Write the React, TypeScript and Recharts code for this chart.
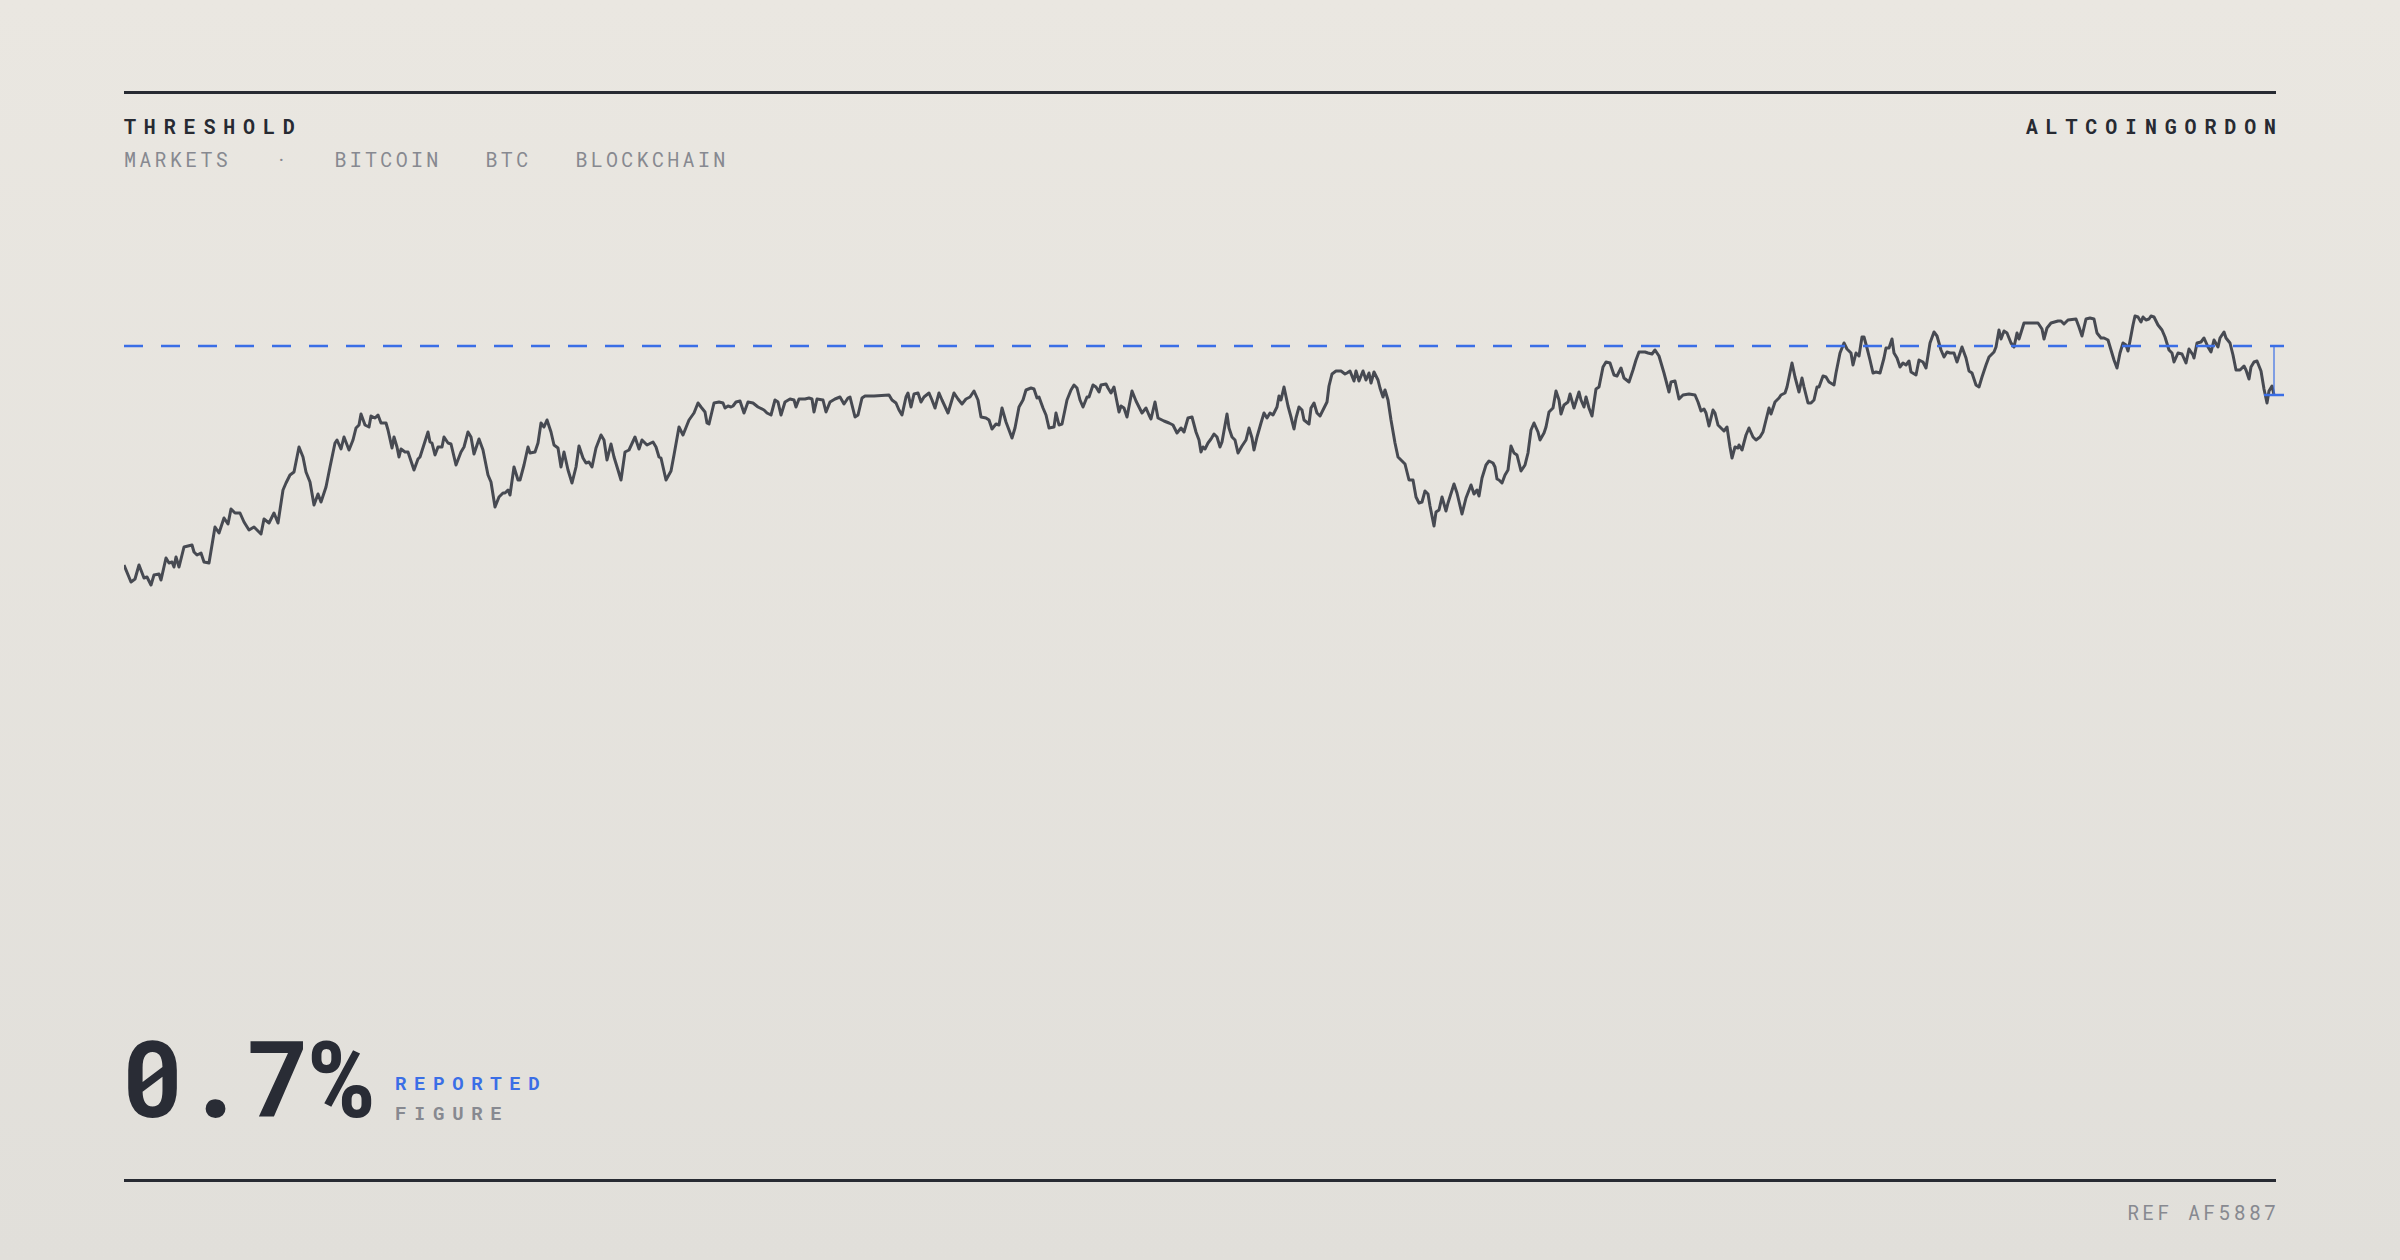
import React from "react";
import { Line, LineChart, ReferenceDot, ReferenceLine, XAxis, YAxis } from "recharts";

// day index of each sample (left to right)
const days = [
	0, 7, 11, 15, 20, 23, 27, 30, 35, 37,
	42, 45, 48, 50, 52, 55, 60, 64, 68, 70,
	73, 77, 80, 85, 91, 95, 100, 104, 107, 111,
	116, 120, 125, 130, 137, 140, 145, 150, 154, 159,
	162, 166, 170, 175, 179, 182, 186, 190, 194, 197,
	202, 206, 211, 213, 217, 220, 225, 229, 232, 235,
	237, 241, 245, 247, 251, 254, 257, 262, 264, 268,
	270, 273, 275, 277, 281, 284, 290, 294, 296, 304,
	306, 308, 311, 314, 318, 320, 324, 327, 332, 337,
	340, 344, 347, 350, 355, 359, 364, 367, 371, 375,
	379, 381, 384, 386, 390, 394, 396, 400, 404, 406,
	411, 414, 417, 420, 423, 427, 430, 434, 437, 440,
	444, 448, 452, 455, 459, 462, 465, 468, 472, 477,
	480, 483, 487, 490, 494, 497, 501, 505, 511, 515,
	518, 523, 529, 532, 535, 537,
	542, 547, 550, 555, 559, 565, 570, 574, 577, 581,
	583, 585, 590, 595, 599, 601, 604, 607, 609, 612,
	616, 620, 624, 629, 634, 640, 643, 647, 651, 654,
	657, 661, 666, 670, 672, 675, 681, 685, 688, 690,
	693, 699, 702, 706, 711, 716, 720, 724, 726, 731,
	734, 738, 741, 750, 765, 768, 772, 775, 778, 782,
	784, 787, 790, 794, 797, 800, 805, 808, 811, 815,
	818, 824, 830, 834, 838, 842, 846, 850, 854, 857,
	862, 865, 868, 872, 875, 878, 882, 888, 891, 895,
	899, 902, 907, 910, 913, 915, 919, 922, 925, 930,
	932, 935, 938, 943, 947, 950, 953, 956, 959, 963,
	965, 969, 972, 975, 977, 982, 984, 987, 990, 995,
	997, 1000, 1003, 1008, 1012, 1015, 1018, 1022, 1025, 1027,
	1031, 1034, 1040, 1045, 1049, 1053, 1057, 1060, 1064, 1068,
	1072, 1075, 1077,
	1079, 1081, 1084, 1087, 1090, 1093, 1096, 1098, 1103, 1105,
	1108, 1111, 1114, 1118, 1122, 1125, 1128, 1130, 1133, 1137,
	1140, 1143, 1146, 1149, 1153, 1155, 1157, 1160, 1164, 1167,
	1170, 1172, 1175, 1178, 1180, 1185, 1187, 1190, 1193, 1196,
	1199, 1203, 1205, 1208, 1212, 1217, 1221, 1223, 1226, 1230,
	1232, 1235, 1239, 1242, 1245, 1247, 1250, 1254, 1256, 1259,
	1261, 1264, 1267, 1271, 1274, 1278, 1281, 1285, 1289, 1292,
	1295, 1298, 1301, 1304, 1306, 1310, 1312, 1315, 1318, 1322,
	1324, 1330, 1333, 1338, 1342, 1347, 1350, 1353, 1355, 1358,
	1362, 1365, 1369, 1371, 1373, 1375, 1378, 1381, 1384, 1387,
	1390, 1393, 1397, 1401, 1404, 1407, 1410, 1414, 1416, 1420,
	1422, 1425, 1429, 1432, 1435, 1437, 1440, 1444, 1446, 1450,
	1455, 1457, 1460, 1462, 1465, 1468, 1472, 1475, 1479, 1482,
	1486, 1490, 1493, 1497, 1500, 1505, 1509, 1512, 1515, 1521,
	1524, 1528, 1531, 1535, 1540, 1545, 1547, 1551, 1555, 1559,
	1565, 1571, 1574, 1577, 1580, 1582, 1585, 1589, 1591, 1594,
	1597, 1600, 1603, 1606, 1608, 1611, 1614, 1615, 1618, 1622,
	1625, 1629, 1632,
	1636, 1639, 1642, 1645, 1647, 1651, 1655, 1657, 1661, 1663,
	1668, 1671, 1675, 1678, 1680, 1684, 1687, 1690, 1693, 1695,
	1699, 1702, 1705, 1710, 1712, 1716, 1720, 1723, 1727, 1729,
	1732, 1735, 1738, 1740, 1743, 1746, 1749, 1752, 1756, 1760,
	1762, 1765, 1768, 1770, 1773, 1776, 1779, 1782, 1785, 1787,
	1792, 1795, 1799, 1802, 1806, 1810, 1813, 1817, 1820, 1823,
	1826, 1830, 1833, 1836, 1838, 1842, 1845, 1848, 1852, 1855,
	1858, 1862, 1865, 1870, 1872, 1875, 1877, 1880, 1883, 1887,
	1890, 1893, 1895, 1900, 1905, 1914, 1918, 1920, 1923, 1927,
	1934, 1937, 1940, 1944, 1952, 1955, 1958, 1962, 1966, 1970,
	1973, 1977, 1980, 1984, 1987, 1990, 1993, 1996, 1999, 2002,
	2004, 2006, 2009, 2011, 2014, 2017, 2019, 2022, 2025, 2027,
	2030, 2034, 2038, 2041, 2045, 2048, 2050, 2054, 2058, 2062,
	2065, 2069, 2070, 2073, 2077, 2080, 2084, 2087, 2090, 2094,
	2096, 2100, 2102, 2106, 2109, 2112, 2116, 2120, 2122, 2125,
	2127, 2130, 2133, 2137, 2140, 2143, 2145, 2148, 2150,
];

const prices = [
	135, 118, 121, 135, 122, 123, 115, 125, 126, 120,
	142, 137, 138, 133, 143, 133, 153, 154, 155, 148,
	145, 147, 138, 137, 173, 167, 182, 176, 191, 187,
	187, 178, 170, 173, 166, 181, 177, 187, 177, 210,
	217, 225, 228, 253, 243, 228, 218, 195, 206, 198,
	213, 233, 257, 260, 251, 263, 250, 260, 272, 275,
	286, 275, 273, 284, 282, 285, 277, 277, 270, 252,
	263, 253, 243, 251, 248, 248, 230, 241, 243, 268,
	258, 257, 245, 253, 253, 263, 257, 256, 235, 248,
	253, 268, 263, 246, 261, 250, 225, 218, 193, 203,
	207, 207, 210, 205, 233, 220, 220, 235, 253, 247,
	248, 257, 277, 273, 280, 268, 255, 252, 233, 248,
	230, 217, 233, 254, 242, 237, 238, 233, 252, 265,
	260, 240, 256, 243, 230, 220, 248, 250, 263, 251,
	260, 255, 258, 253, 243, 242,
	220, 229, 245, 273, 265, 280, 287, 297, 293, 288,
	277, 276, 297, 298, 297, 292, 294, 293, 294, 298,
	299, 287, 298, 297, 293, 290, 287, 285, 300, 298,
	285, 298, 301, 300, 293, 301, 301, 302, 301, 288,
	301, 300, 288, 298, 301, 303, 296, 302, 303, 283,
	285, 302, 304, 304, 305, 300, 297, 290, 285, 303,
	307, 293, 306, 307, 298, 303, 307, 300, 292, 307,
	300, 287, 307, 301, 296, 301, 303, 309, 300, 283,
	282, 280, 271, 276, 275, 292, 278, 262, 272, 293,
	300, 310, 312, 311, 302, 303, 292, 285, 272, 273,
	287, 275, 276, 300, 310, 315, 312, 300, 293, 303,
	303, 315, 313, 308, 315, 316, 312, 307, 313, 288,
	294, 292, 283, 309, 299, 293, 287, 292, 285, 281,
	298, 282, 279, 277, 275, 267, 272, 268, 282, 283,
	268, 260, 248,
	253, 251, 257, 261, 266, 263, 253, 258, 286, 272,
	263, 260, 247, 254, 260, 272, 262, 250, 263, 277,
	287, 282, 287, 285, 293, 304, 300, 313, 294, 283,
	271, 282, 293, 290, 280, 276, 292, 297, 287, 284,
	290, 298, 314, 326, 329, 329, 326, 327, 329, 319,
	329, 319, 329, 320, 327, 317, 328, 320, 312, 303,
	310, 300, 280, 257, 243, 239, 236, 220, 220, 203,
	197, 198, 209, 206, 194, 174, 188, 190, 203, 189,
	197, 216, 207, 186, 202, 215, 206, 210, 204, 222,
	235, 239, 237, 233, 221, 220, 217, 225, 230, 254,
	247, 245, 229, 235, 247, 270, 277, 268, 260, 267,
	273, 288, 292, 309, 300, 286, 295, 298, 306, 292,
	308, 300, 293, 303, 292, 284, 311, 313, 333, 338,
	337, 325, 324, 332, 322, 318, 330, 340, 348, 348,
	347, 346, 350, 344, 327, 308, 318, 319, 301, 305,
	306, 305, 298, 289, 291, 287, 274, 290, 287, 275,
	272, 269, 273, 253, 242, 253, 252, 255, 250, 265,
	272, 263, 260,
	263, 268, 280, 292, 286, 298, 302, 305, 307, 313,
	337, 323, 308, 322, 313, 297, 297, 300, 313, 313,
	324, 323, 318, 315, 327, 347, 357, 351, 347, 335,
	347, 344, 363, 363, 352, 340, 327, 328, 327, 342,
	352, 352, 361, 347, 342, 333, 337, 335, 339, 328,
	325, 340, 338, 332, 357, 368, 364, 350, 343, 348,
	347, 347, 338, 347, 353, 342, 329, 327, 315, 313,
	323, 335, 343, 348, 353, 370, 361, 369, 367, 357,
	353, 367, 361, 377, 377, 377, 371, 361, 372, 377,
	379, 379, 376, 380, 381, 373, 364, 381, 382, 381,
	367, 362, 362, 360, 350, 340, 332, 347, 357, 355,
	349, 359, 375, 384, 383, 378, 383, 380, 381, 384,
	383, 375, 370, 363, 350, 347, 338, 347, 346, 337,
	351, 345, 342, 357, 358, 362, 353, 348, 360, 353,
	362, 368, 362, 357, 345, 330, 330, 334, 330, 321,
	333, 338, 339, 329, 311, 297, 309, 314, 305,
];

const threshold = 354;
const tags = ["MARKETS", "·", "BITCOIN", "BTC", "BLOCKCHAIN"];

const series = days.map((day, i) => ({ day, price: prices[i] }));
const last = series[series.length - 1];

const INK = "#272a32";
const GREY = "#878990";
const BLUE = "#3a6ee6";
const MONO = "'Roboto Mono', 'DejaVu Sans Mono', monospace";

const abs = (s: React.CSSProperties): React.CSSProperties => ({ position: "absolute", lineHeight: 1, whiteSpace: "nowrap", ...s });

export default function App() {
	return (
		<div
			style={{
				position: "absolute",
				left: 0,
				top: 0,
				width: 2400,
				height: 1260,
				overflow: "hidden",
				background: "linear-gradient(180deg, #eae7e1 0%, #e1dfda 100%)",
				fontFamily: MONO,
			}}
		>
			<div style={abs({ left: 124, top: 91, width: 2152, height: 3, background: INK })} />

			<div style={abs({ left: 124, top: 116, fontSize: 20, fontWeight: 700, letterSpacing: 7.85, color: INK })}>THRESHOLD</div>
			<div style={abs({ right: 124, top: 116, fontSize: 20, fontWeight: 700, letterSpacing: 7.85, marginRight: -7.85, color: INK })}>
				ALTCOINGORDON
			</div>

			<div style={abs({ left: 124, top: 149, display: "flex", gap: 44, fontSize: 20, letterSpacing: 3.3, color: GREY })}>
				{tags.map((t) => (
					<span key={t}>{t}</span>
				))}
			</div>

			<div style={abs({ left: 124, top: 300 })}>
				<LineChart width={2160} height={300} data={series} margin={{ top: 0, right: 0, bottom: 0, left: 0 }}>
					<XAxis type="number" dataKey="day" domain={[0, 2160]} hide />
					<YAxis type="number" domain={[100, 400]} hide />
					<Line
						type="linear"
						dataKey="price"
						stroke="#474a52"
						strokeWidth={3}
						strokeLinejoin="round"
						dot={false}
						activeDot={false}
						isAnimationActive={false}
					/>
					<ReferenceLine y={threshold} stroke={BLUE} strokeWidth={2.5} strokeDasharray="19 18" />
					<ReferenceLine
						segment={[
							{ x: last.day, y: threshold },
							{ x: last.day, y: last.price },
						]}
						stroke={BLUE}
						strokeOpacity={0.6}
						strokeWidth={2}
					/>
					<ReferenceDot
						x={last.day}
						y={last.price}
						shape={(p: any) => (
							<line x1={p.cx - 10} x2={p.cx + 10} y1={p.cy} y2={p.cy} stroke={BLUE} strokeWidth={2.5} />
						)}
					/>
				</LineChart>
			</div>

			<div style={abs({ left: 121, top: 1024, fontSize: 105, fontWeight: 700, color: "#292c35" })}>0.7%</div>
			<div style={abs({ left: 395, top: 1073, fontSize: 19, fontWeight: 700, letterSpacing: 7.65, color: BLUE })}>REPORTED</div>
			<div style={abs({ left: 395, top: 1103, fontSize: 19, fontWeight: 700, letterSpacing: 7.65, color: GREY })}>FIGURE</div>

			<div style={abs({ left: 124, top: 1179, width: 2152, height: 3, background: INK })} />
			<div style={abs({ right: 124, top: 1202, fontSize: 20, letterSpacing: 3.2, marginRight: -3.2, color: GREY })}>REF AF5887</div>
		</div>
	);
}
